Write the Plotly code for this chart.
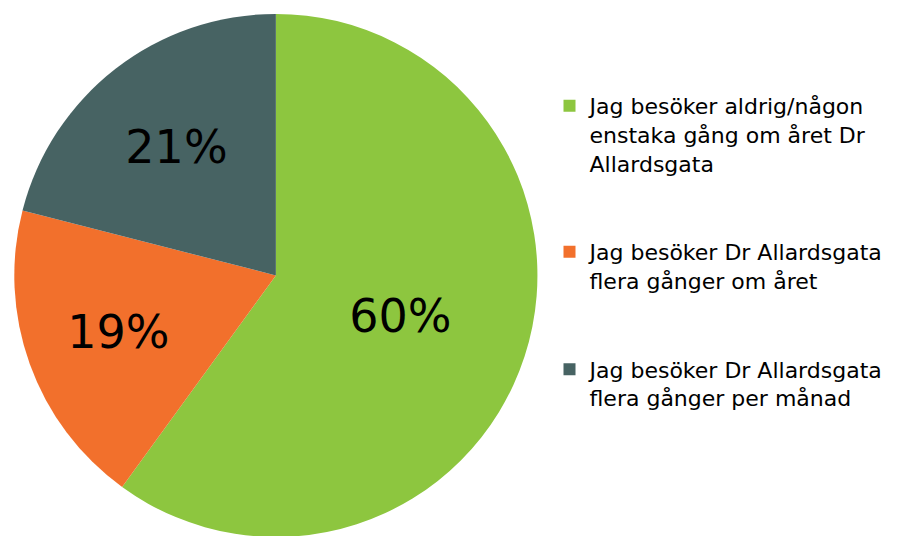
import plotly.graph_objects as go

labels = [
    "Jag besöker aldrig/någon<br>enstaka gång om året Dr<br>Allardsgata<br> <br> ",
    "Jag besöker Dr Allardsgata<br>flera gånger om året<br> <br> ",
    "Jag besöker Dr Allardsgata<br>flera gånger per månad",
]
values = [60, 19, 21]
colors = ["#8DC63F", "#F2702C", "#476363"]

fig = go.Figure(
    go.Pie(
        labels=labels,
        values=values,
        sort=False,
        direction="clockwise",
        rotation=0,
        marker=dict(colors=colors, line=dict(width=0)),
        textinfo="percent",
        texttemplate="%{percent:.0%}",
        textposition="inside",
        insidetextorientation="horizontal",
        textfont=dict(family="DejaVu Sans", size=46, color="black"),
        domain=dict(x=[0.0066, 0.588], y=[0.013, 0.989]),
        hoverinfo="label+percent",
    )
)

fig.update_layout(
    width=901,
    height=536,
    margin=dict(l=0, r=0, t=0, b=0),
    paper_bgcolor="white",
    plot_bgcolor="white",
    showlegend=True,
    legend=dict(
        x=0.601,
        xanchor="left",
        y=1 - 77 / 536,
        yanchor="top",
        valign="top",
        font=dict(family="DejaVu Sans", size=22, color="black"),
        bgcolor="rgba(0,0,0,0)",
        tracegroupgap=0,
    ),
    uniformtext=dict(minsize=46, mode="show"),
)

fig.write_html("out.html")
